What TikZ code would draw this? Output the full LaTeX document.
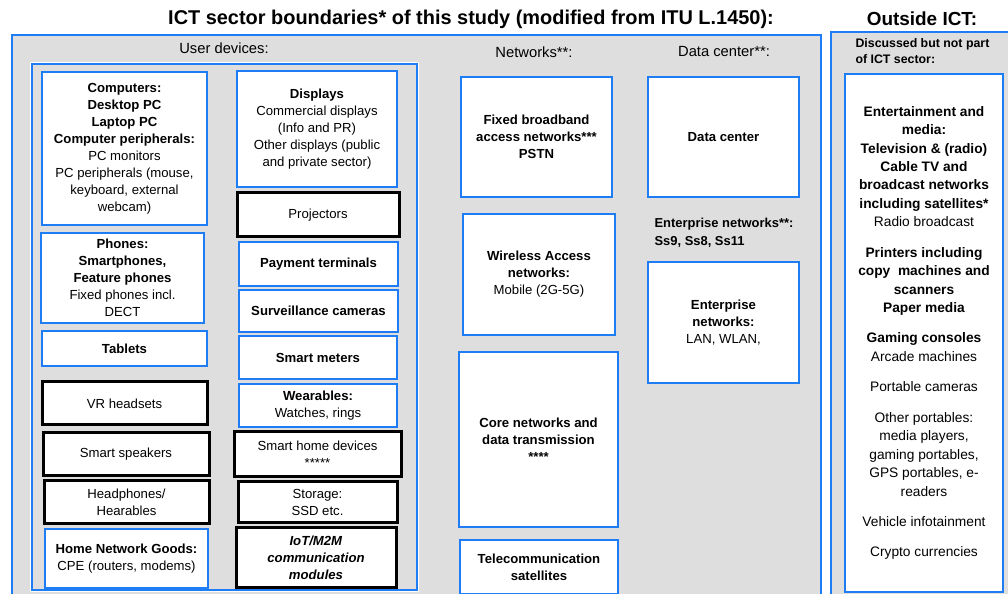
\documentclass[tikz,border=0pt]{standalone}
\usepackage{fontspec}
\setmainfont{Liberation Sans}
\definecolor{icblue}{RGB}{30,125,245}
\definecolor{icgray}{RGB}{222,222,222}
\newcommand{\bodyfont}{\fontsize{13.2}{17}\selectfont}
\tikzset{
  panel/.style={draw=icblue,line width=2bp,fill=icgray,inner sep=0pt},
  ubox/.style={draw=icblue,line width=2bp,fill=white,align=center,inner sep=2bp,font=\bodyfont},
  kbox/.style={draw=black,line width=3bp,fill=white,align=center,inner sep=2bp,font=\bodyfont},
  head/.style={font=\fontsize{14.8}{17}\selectfont},
  small/.style={align=left,anchor=west,font=\fontsize{13}{18}\selectfont\bfseries},
}
\begin{document}
\begin{tikzpicture}
		%%
  \useasboundingbox (0bp,0bp) rectangle (1008bp,594bp);
  \node (title) at (471bp,575bp) [font=\fontsize{20}{23}\selectfont\bfseries] {ICT sector boundaries* of this study (modified from ITU L.1450):};
  \node (outtitle) at (922bp,575bp) [font=\fontsize{19}{22}\selectfont\bfseries] {Outside ICT:};
  \node (ict) at (416.5bp,276.5bp) [panel,minimum width=809bp,minimum height=565bp] {};
  \node (out) at (921.5bp,278bp) [panel,minimum width=181bp,minimum height=568bp] {};
  \node (user) at (224.5bp,267bp) [panel,preaction={draw=white,line width=4bp},minimum width=385bp,minimum height=526bp] {};
  \node (userlbl) at (224bp,546bp) [head] {User devices:};
  \node (netlbl) at (534bp,542bp) [head] {Networks**:};
  \node (dclbl) at (724bp,542bp) [head] {Data center**:};
  \node (entlbl) at (651bp,361bp) [small] {Enterprise networks**:\\Ss9, Ss8, Ss11};
  \node (outlbl) at (852bp,543bp) [small,font=\fontsize{12.4}{15.5}\selectfont\bfseries] {Discussed but not part\\of ICT sector:};
		%
  \node (comp) at (124.5bp,445.5bp) [ubox,minimum width=165bp,minimum height=153bp] {\textbf{Computers:}\\\textbf{Desktop PC}\\\textbf{Laptop PC}\\\textbf{Computer peripherals:}\\PC monitors\\PC peripherals (mouse,\\keyboard, external\\webcam)};
  \node (phone) at (122.5bp,316bp) [ubox,minimum width=163bp,minimum height=90bp] {\textbf{Phones:}\\\textbf{Smartphones,}\\\textbf{Feature phones}\\Fixed phones incl.\\DECT};
  \node (tablet) at (124.5bp,245.5bp) [ubox,minimum width=165bp,minimum height=35bp] {\textbf{Tablets}};
  \node (vr) at (124.5bp,190.5bp) [kbox,minimum width=165bp,minimum height=43bp] {VR headsets};
  \node (speaker) at (126bp,139.5bp) [kbox,minimum width=166bp,minimum height=43bp] {Smart speakers};
  \node (headph) at (126.5bp,91.5bp) [kbox,minimum width=165bp,minimum height=43bp] {Headphones/\\Hearables};
  \node (homenet) at (126.5bp,35.5bp) [ubox,minimum width=163bp,minimum height=59bp] {\textbf{Home Network Goods:}\\CPE (routers, modems)};
  \node (disp) at (317bp,465bp) [ubox,minimum width=160bp,minimum height=116bp] {\textbf{Displays}\\Commercial displays\\(Info and PR)\\Other displays (public\\and private sector)};
  \node (proj) at (318bp,379bp) [kbox,minimum width=162bp,minimum height=44bp] {Projectors};
  \node (pay) at (318.5bp,330bp) [ubox,minimum width=159bp,minimum height=44bp] {\textbf{Payment terminals}};
  \node (surv) at (318.5bp,283bp) [ubox,minimum width=159bp,minimum height=42bp] {\textbf{Surveillance cameras}};
  \node (meter) at (318bp,236.5bp) [ubox,minimum width=158bp,minimum height=43bp] {\textbf{Smart meters}};
  \node (wear) at (318bp,188.5bp) [ubox,minimum width=158bp,minimum height=43bp] {\textbf{Wearables:}\\Watches, rings};
  \node (smhome) at (317.5bp,139.5bp) [kbox,minimum width=167bp,minimum height=45bp] {Smart home devices\\*****};
  \node (stor) at (317.5bp,91.5bp) [kbox,minimum width=159bp,minimum height=41bp] {Storage:\\SSD etc.};
  \node (iot) at (316bp,36bp) [kbox,minimum width=160bp,minimum height=60bp] {\textbf{\textit{IoT/M2M}}\\\textbf{\textit{communication}}\\\textbf{\textit{modules}}};
		%
  \node (fixed) at (536.5bp,457bp) [ubox,minimum width=151bp,minimum height=120bp] {\textbf{Fixed broadband}\\\textbf{access networks***}\\\textbf{PSTN}};
  \node (dc) at (723.5bp,457bp) [ubox,minimum width=151bp,minimum height=120bp] {\textbf{Data center}};
  \node (wless) at (539bp,319.5bp) [ubox,minimum width=152bp,minimum height=121bp] {\textbf{Wireless Access}\\\textbf{networks:}\\Mobile (2G-5G)};
  \node (ent) at (723.5bp,271.5bp) [ubox,minimum width=151bp,minimum height=121bp] {\textbf{Enterprise}\\\textbf{networks:}\\LAN, WLAN,};
  \node (core) at (538.5bp,154.5bp) [ubox,minimum width=159bp,minimum height=175bp] {\textbf{Core networks and}\\\textbf{data transmission}\\\textbf{****}};
  \node (sat) at (539bp,27bp) [ubox,minimum width=158bp,minimum height=54bp] {\textbf{Telecommunication}\\\textbf{satellites}};
		%
  \node (outbox) at (924bp,261bp) [ubox,minimum width=158bp,minimum height=518bp,font=\fontsize{13.8}{18.5}\selectfont] {\textbf{Entertainment and}\\\textbf{media:}\\\textbf{Television \& (radio)}\\\textbf{Cable TV and}\\\textbf{broadcast networks}\\\textbf{including satellites*}\\Radio broadcast\\[12bp]\textbf{Printers including}\\\textbf{copy\ \ machines and}\\\textbf{scanners}\\\textbf{Paper media}\\[12bp]\textbf{Gaming consoles}\\Arcade machines\\[12bp]Portable cameras\\[12bp]Other portables:\\media players,\\gaming portables,\\GPS portables, e-\\readers\\[12bp]Vehicle infotainment\\[12bp]Crypto currencies};
		%
	\end{tikzpicture}
\end{document}
